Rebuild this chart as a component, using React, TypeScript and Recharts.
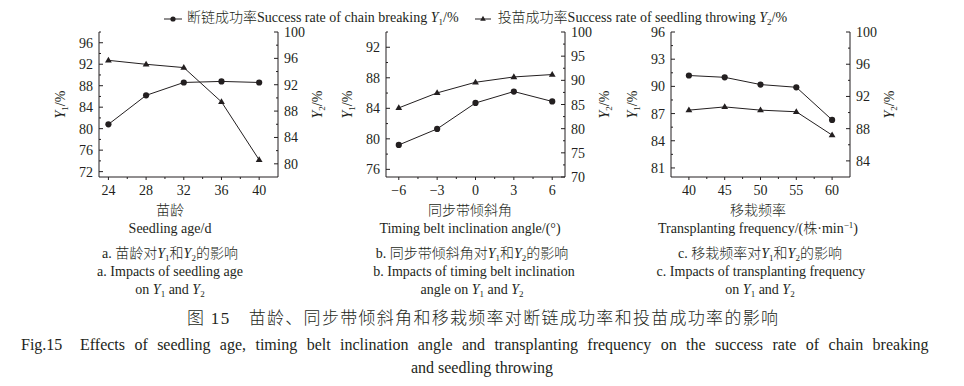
import React from 'react';
import { LineChart, Line, XAxis, YAxis } from 'recharts';

// ---------- data ----------
const ageX = [24, 28, 32, 36, 40];
const ageY1 = [80.8, 86.2, 88.6, 88.8, 88.6];
const ageY2 = [95.7, 95.1, 94.6, 89.4, 80.6];

const angleX = [-6, -3, 0, 3, 6];
const angleY1 = [79.2, 81.3, 84.7, 86.2, 84.9];
const angleY2 = [84.3, 87.4, 89.6, 90.7, 91.2];

const freqX = [40, 45, 50, 55, 60];
const freqY1 = [91.2, 91.0, 90.2, 89.9, 86.3];
const freqY2 = [90.3, 90.7, 90.3, 90.1, 87.2];

// tick labels (major) and minor tick marks
const ageXTicks = [24, 28, 32, 36, 40];
const ageXMinor = [26, 30, 34, 38];
const ageLTicks = [72, 76, 80, 84, 88, 92, 96];
const ageLMinor = [74, 78, 82, 86, 90, 94, 98];
const ageRTicks = [80, 84, 88, 92, 96, 100];
const ageRMinor = [82, 86, 90, 94, 98];

const angleXTicks = [-6, -3, 0, 3, 6];
const angleXMinor = [-4.5, -1.5, 1.5, 4.5];
const angleLTicks = [76, 80, 84, 88, 92];
const angleLMinor = [78, 82, 86, 90, 94];
const angleRTicks = [70, 75, 80, 85, 90, 95, 100];
const angleRMinor = [72.5, 77.5, 82.5, 87.5, 92.5, 97.5];

const freqXTicks = [40, 45, 50, 55, 60];
const freqXMinor = [42.5, 47.5, 52.5, 57.5];
const freqLTicks = [81, 84, 87, 90, 93, 96];
const freqLMinor = [82.5, 85.5, 88.5, 91.5, 94.5];
const freqRTicks = [84, 88, 92, 96, 100];
const freqRMinor = [86, 90, 94, 98];

// ---------- style ----------
const FONT = "'Liberation Serif','Times New Roman','Noto Sans CJK SC',serif";
const INK = '#231f20';
const FS = 14;

const PLOT_W = 179;
const PLOT_H = 145;
const AX_W = 50;
const TOP_M = 10;
const X_H = 25;
const CHART_W = AX_W * 2 + PLOT_W;
const CHART_H = TOP_M + PLOT_H + X_H;

const fmt = (v: number) => (v < 0 ? '\u2212' + Math.abs(v) : String(v));

const makeTick = (side: 'left' | 'right' | 'bottom', majors: number[]) => (props: any) => {
  const { x, y, payload } = props;
  const v = payload.value;
  const isMajor = majors.includes(v);
  const len = isMajor ? 4 : 2;
  if (side === 'left') {
    return (
      <g>
        <line x1={x} y1={y} x2={x + len} y2={y} stroke={INK} strokeWidth={1} />
        {isMajor && (
          <text x={x - 6} y={y + 5} textAnchor="end" fontFamily={FONT} fontSize={FS} fill={INK}>
            {fmt(v)}
          </text>
        )}
      </g>
    );
  }
  if (side === 'right') {
    return (
      <g>
        <line x1={x} y1={y} x2={x - len} y2={y} stroke={INK} strokeWidth={1} />
        {isMajor && (
          <text x={x + 6} y={y + 5} textAnchor="start" fontFamily={FONT} fontSize={FS} fill={INK}>
            {fmt(v)}
          </text>
        )}
      </g>
    );
  }
  return (
    <g>
      <line x1={x} y1={y} x2={x} y2={y + (isMajor ? 3 : 2)} stroke={INK} strokeWidth={1} />
      {isMajor && (
        <text x={x} y={y + 18} textAnchor="middle" fontFamily={FONT} fontSize={FS} fill={INK}>
          {fmt(v)}
        </text>
      )}
    </g>
  );
};

const CircleDot = (p: any) => {
  if (p.cx == null || p.cy == null) return <g key={p.index} />;
  return <circle key={p.index} cx={p.cx} cy={p.cy} r={3.1} fill={INK} stroke="none" />;
};
const TriDot = (p: any) => {
  if (p.cx == null || p.cy == null) return <g key={p.index} />;
  const { cx, cy } = p;
  return (
    <path
      key={p.index}
      d={`M${cx},${cy - 3.6} L${cx + 3.4},${cy + 2.2} L${cx - 3.4},${cy + 2.2} Z`}
      fill={INK}
      stroke="none"
    />
  );
};

const YTitle = (which: 1 | 2, side: 'left' | 'right') => () => {
  const cx = side === 'left' ? AX_W - 39 + 5 : AX_W + PLOT_W + 39 + 5;
  const cy = TOP_M + PLOT_H / 2;
  return (
    <text
      x={cx}
      y={cy}
      transform={`rotate(-90, ${cx}, ${cy})`}
      textAnchor="middle"
      fontFamily={FONT}
      fontSize={FS}
      fill={INK}
    >
      <tspan fontStyle="italic">Y</tspan>
      <tspan fontSize={9} dy={3}>
        {which}
      </tspan>
      <tspan dy={-3}>/%</tspan>
    </text>
  );
};

// Rich caption: strings are plain text, numbers mean italic Y with that subscript
const rich = (parts: (string | number)[]) => {
  const out: React.ReactNode[] = [];
  let lowered = false;
  parts.forEach((p, i) => {
    if (typeof p === 'number') {
      out.push(
        <tspan key={`y${i}`} fontStyle="italic" dy={lowered ? -3 : 0}>
          Y
        </tspan>
      );
      out.push(
        <tspan key={`s${i}`} fontSize={9} dy={3}>
          {p}
        </tspan>
      );
      lowered = true;
    } else {
      out.push(
        <tspan key={`t${i}`} dy={lowered ? -3 : 0}>
          {p}
        </tspan>
      );
      lowered = false;
    }
  });
  return out;
};

type PanelProps = {
  left: number;
  xs: number[];
  y1: number[];
  y2: number[];
  xDomain: [number, number];
  xTicks: number[];
  xMinor: number[];
  lDomain: [number, number];
  lTicks: number[];
  lMinor: number[];
  rDomain: [number, number];
  rTicks: number[];
  rMinor: number[];
};

const Panel = (p: PanelProps) => {
  const data = p.xs.map((x, i) => ({ x, y1: p.y1[i], y2: p.y2[i] }));
  return (
    <div style={{ position: 'absolute', left: p.left - AX_W, top: 32 - TOP_M }}>
      <LineChart width={CHART_W} height={CHART_H} data={data} margin={{ top: TOP_M, right: 0, bottom: 0, left: 0 }}>
        <XAxis
          dataKey="x"
          type="number"
          domain={p.xDomain}
          ticks={[...p.xTicks, ...p.xMinor]}
          interval={0}
          height={X_H}
          tickSize={0}
          tickMargin={0}
          tickLine={false}
          axisLine={{ stroke: INK, strokeWidth: 1 }}
          tick={makeTick('bottom', p.xTicks)}
        />
        <YAxis
          yAxisId="L"
          orientation="left"
          type="number"
          domain={p.lDomain}
          ticks={[...p.lTicks, ...p.lMinor]}
          interval={0}
          width={AX_W}
          tickSize={0}
          tickMargin={0}
          tickLine={false}
          axisLine={{ stroke: INK, strokeWidth: 1 }}
          tick={makeTick('left', p.lTicks)}
          label={YTitle(1, 'left')}
          allowDataOverflow
        />
        <YAxis
          yAxisId="R"
          orientation="right"
          type="number"
          domain={p.rDomain}
          ticks={[...p.rTicks, ...p.rMinor]}
          interval={0}
          width={AX_W}
          tickSize={0}
          tickMargin={0}
          tickLine={false}
          axisLine={{ stroke: INK, strokeWidth: 1 }}
          tick={makeTick('right', p.rTicks)}
          label={YTitle(2, 'right')}
          allowDataOverflow
        />
        <Line
          yAxisId="L"
          dataKey="y1"
          type="linear"
          stroke={INK}
          strokeWidth={1}
          dot={CircleDot}
          activeDot={false}
          isAnimationActive={false}
        />
        <Line
          yAxisId="R"
          dataKey="y2"
          type="linear"
          stroke={INK}
          strokeWidth={1}
          dot={TriDot}
          activeDot={false}
          isAnimationActive={false}
        />
      </LineChart>
    </div>
  );
};

const Sub = ({ n }: { n: number }) => (
  <span style={{ fontSize: 9, position: 'relative', top: 3 }}>{n}</span>
);

export default function App() {
  return (
    <div
      style={{
        position: 'absolute',
        left: 0,
        top: 0,
        width: 964,
        height: 386,
        background: '#fff',
        fontFamily: FONT,
        fontWeight: 300,
        color: INK,
        overflow: 'hidden',
      }}
    >
      {/* legend */}
      <div
        style={{
          position: 'absolute',
          top: 8,
          left: 164,
          display: 'flex',
          alignItems: 'center',
          fontSize: FS,
          whiteSpace: 'nowrap',
          lineHeight: '20px',
        }}
      >
        <svg width={18} height={10} style={{ marginRight: 5 }}>
          <line x1={0} y1={5} x2={18} y2={5} stroke={INK} strokeWidth={1} />
          <circle cx={9} cy={5} r={2.6} fill={INK} />
        </svg>
        <span>
          断链成功率Success rate of chain breaking <i>Y</i>
          <Sub n={1} />/%
        </span>
        <svg width={16} height={10} style={{ marginLeft: 16, marginRight: 7 }}>
          <line x1={0} y1={5} x2={16} y2={5} stroke={INK} strokeWidth={1} />
          <path d="M8,1.8 L10.8,6.8 L5.2,6.8 Z" fill={INK} />
        </svg>
        <span>
          投苗成功率Success rate of seedling throwing <i>Y</i>
          <Sub n={2} />/%
        </span>
      </div>

      <Panel
        left={99}
        xs={ageX}
        y1={ageY1}
        y2={ageY2}
        xDomain={[23, 42]}
        xTicks={ageXTicks}
        xMinor={ageXMinor}
        lDomain={[71, 98]}
        lTicks={ageLTicks}
        lMinor={ageLMinor}
        rDomain={[78, 100]}
        rTicks={ageRTicks}
        rMinor={ageRMinor}
      />
      <Panel
        left={386}
        xs={angleX}
        y1={angleY1}
        y2={angleY2}
        xDomain={[-7, 7]}
        xTicks={angleXTicks}
        xMinor={angleXMinor}
        lDomain={[75, 94]}
        lTicks={angleLTicks}
        lMinor={angleLMinor}
        rDomain={[70, 100]}
        rTicks={angleRTicks}
        rMinor={angleRMinor}
      />
      <Panel
        left={671}
        xs={freqX}
        y1={freqY1}
        y2={freqY2}
        xDomain={[37.5, 62.5]}
        xTicks={freqXTicks}
        xMinor={freqXMinor}
        lDomain={[80, 96]}
        lTicks={freqLTicks}
        lMinor={freqLMinor}
        rDomain={[82, 100]}
        rTicks={freqRTicks}
        rMinor={freqRMinor}
      />

      {/* captions */}
      <svg
        width={964}
        height={386}
        style={{ position: 'absolute', left: 0, top: 0, pointerEvents: 'none' }}
        fontFamily={FONT}
        fontWeight={300}
        fill={INK}
      >
        <g fontSize={FS} textAnchor="middle">
          <text x={170} y={215}>苗龄</text>
          <text x={170} y={233}>Seedling age/d</text>
          <text x={470} y={215}>同步带倾斜角</text>
          <text x={470} y={233}>Timing belt inclination angle/(°)</text>
          <text x={758} y={215}>移栽频率</text>
          <text x={758} y={233}>
            Transplanting frequency/(株·min<tspan fontSize={9} dy={-5}>−1</tspan>
            <tspan dy={5}>)</tspan>
          </text>

          <text x={170} y={258}>{rich(['a. 苗龄对', 1, '和', 2, '的影响'])}</text>
          <text x={170} y={276}>a. Impacts of seedling age</text>
          <text x={170} y={294}>{rich(['on ', 1, ' and ', 2])}</text>

          <text x={472} y={258}>{rich(['b. 同步带倾斜角对', 1, '和', 2, '的影响'])}</text>
          <text x={474} y={276}>b. Impacts of timing belt inclination</text>
          <text x={472} y={294}>{rich(['angle on ', 1, ' and ', 2])}</text>

          <text x={760} y={258}>{rich(['c. 移栽频率对', 1, '和', 2, '的影响'])}</text>
          <text x={761} y={276}>c. Impacts of transplanting frequency</text>
          <text x={760} y={294}>{rich(['on ', 1, ' and ', 2])}</text>
        </g>
        <g fontSize={16}>
          <text x={187} y={324} textLength={591} lengthAdjust="spacing" fontSize={17}>
            图 15　苗龄、同步带倾斜角和移栽频率对断链成功率和投苗成功率的影响
          </text>
          <text x={21} y={350}>Fig.15</text>
          <text x={80} y={350} style={{ wordSpacing: '5.4px' }}>
            Effects of seedling age, timing belt inclination angle and transplanting frequency on the success rate of chain breaking
          </text>
          <text x={482} y={373} textAnchor="middle">
            and seedling throwing
          </text>
        </g>
      </svg>
    </div>
  );
}
